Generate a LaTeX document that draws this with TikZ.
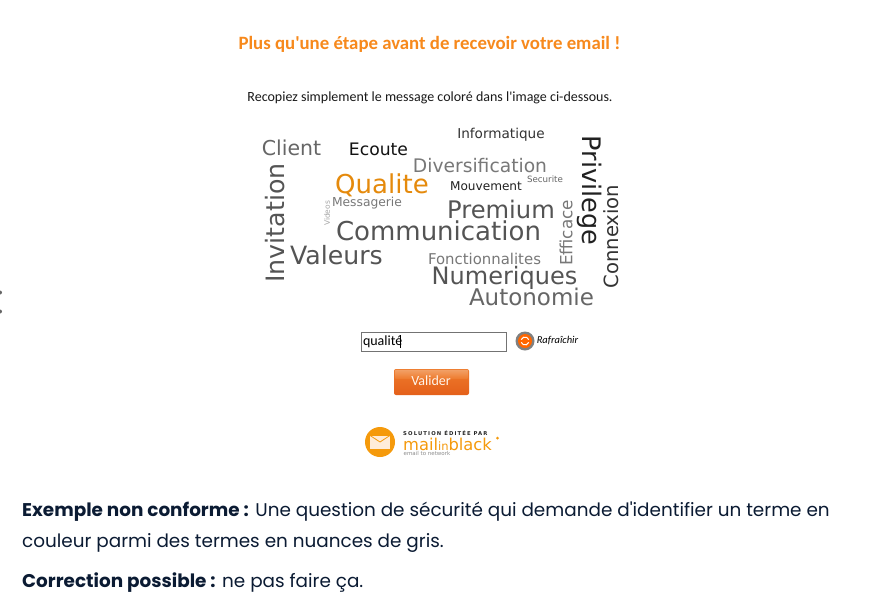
\documentclass[tikz,border=0pt]{standalone}
\usepackage{fontspec}
\newfontfamily\pagefont{Carlito}
\newfontfamily\cloudfont{DejaVu Sans}
\newfontfamily\logofont[LetterSpace=21]{DejaVu Sans}
\newfontfamily\bodyfont{Poppins}
\usetikzlibrary{positioning}
\definecolor{titleorange}{HTML}{F7891C}
\definecolor{wordorange}{HTML}{E58A0C}
\definecolor{bodyink}{HTML}{0B1B33}
\definecolor{logoorange}{HTML}{F59A0C}
\definecolor{buttonlight}{HTML}{F2A066}
\definecolor{buttonmid}{HTML}{EE7A2C}
\definecolor{buttondark}{HTML}{E4601A}
\newcommand{\cloudsize}[1]{\fontsize{#1}{#1}\selectfont}

\tikzset{
  word/.style={inner sep=0pt, font=\cloudfont},
  bodyline/.style={inner sep=0pt, anchor=base west, text=bodyink, font=\bodyfont\fontsize{18.4}{24}\selectfont},
}

\begin{document}
\begin{tikzpicture}[x=1pt, y=-1pt]
\useasboundingbox[fill=white] (0,0) rectangle (877,611);

\node[name=title, inner sep=0pt, text=titleorange, font=\pagefont\bfseries\fontsize{18.8}{22}\selectfont] at (429.5,44) {Plus qu'une étape avant de recevoir votre email !};
\node[name=subtitle, inner sep=0pt, text=black!90, font=\pagefont\fontsize{14}{18}\selectfont] at (430,98) {Recopiez simplement le message coloré dans l'image ci-dessous.};

% word cloud
\node[name=client, word, text=black!60] at (291.5,148) {\cloudsize{20.5}Client};
\node[name=ecoute, word, text=black!93] at (378.5,149) {\cloudsize{17.2}Ecoute};
\node[name=informatique, word, text=black!80] at (501,134.5) {\cloudsize{13.6}Informatique};
\node[name=diversification, word, text=black!53] at (480,166) {\cloudsize{18.7}Diversification};
\node[name=qualite, word, text=wordorange] at (382,185) {\cloudsize{26}Qualite};
\node[name=mouvement, word, text=black!87] at (486,186.5) {\cloudsize{12.1}Mouvement};
\node[name=securite, word, text=black!60] at (545,179) {\cloudsize{8.7}Securite};
\node[name=messagerie, word, text=black!53] at (367,203) {\cloudsize{12.3}Messagerie};
\node[name=videos, word, text=black!35, rotate=90] at (327,213.5) {\cloudsize{7.5}Videos};
\node[name=premium, word, text=black!67] at (501,209.5) {\cloudsize{24.2}Premium};
\node[name=communication, word, text=black!67] at (438.5,231) {\cloudsize{26}Communication};
\node[name=valeurs, word, text=black!67] at (336.5,255) {\cloudsize{25.2}Valeurs};
\node[name=fonctionnalites, word, text=black!53] at (484.5,259) {\cloudsize{14.9}Fonctionnalites};
\node[name=numeriques, word, text=black!67] at (504.5,278) {\cloudsize{24}Numeriques};
\node[name=autonomie, word, text=black!60] at (531.5,297) {\cloudsize{23}Autonomie};
\node[name=invitation, word, text=black!67, rotate=90] at (275,223) {\cloudsize{25.3}Invitation};
\node[name=privilege, word, text=black!87, rotate=-90] at (590,190.5) {\cloudsize{25.5}Privilege};
\node[name=efficace, word, text=black!53, rotate=90] at (566,233) {\cloudsize{16.8}Efficace};
\node[name=connexion, word, text=black!80, rotate=90] at (611,236.5) {\cloudsize{19.6}Connexion};

% form
\node[name=answer, draw=black!55, line width=.8pt, fill=white, minimum width=145pt, minimum height=19pt, inner sep=2pt, text width=141pt, align=left, font=\pagefont\fontsize{14}{16}\selectfont] at (433.5,341.5) {qualité};
\draw[name=caret, black, line width=.7pt] (400.5,335) -- (400.5,348);
\node[name=refresh, circle, fill=black!50, minimum size=19pt, inner sep=0pt] at (525,341) {};
\node[name=refreshin, circle, fill=orange!80!red, minimum size=14pt, inner sep=0pt] at (525,341) {};
\draw[white, line width=1pt] (525,341) +(20:4pt) arc (20:160:4pt);
\draw[white, line width=1pt] (525,341) +(200:4pt) arc (200:340:4pt);
\node[name=refreshlabel, inner sep=0pt, font=\pagefont\itshape\fontsize{10.5}{14}\selectfont] at (557.5,340) {Rafraîchir};

\shade[name=validerback, rounded corners=2pt, top color=buttonmid, bottom color=buttondark] (394,369) rectangle (469,395);
\shade[top color=buttonlight, bottom color=buttonmid, rounded corners=1pt] (394.8,369.8) rectangle (468.2,379);
\node[name=valider, inner sep=0pt, text=white!92!orange, font=\pagefont\fontsize{14}{16}\selectfont] at (431,381) {Valider};

% logo
\node[name=logo, circle, fill=logoorange, minimum size=30pt, inner sep=0pt] at (380,442) {};
\node[name=envelope, rectangle, fill=white!85!orange, minimum width=20pt, minimum height=13pt, inner sep=0pt] at (380,442) {};
\draw[logoorange, line width=.8pt] (envelope.north west) -- (envelope.center) -- (envelope.north east);
\node[name=solution, inner sep=0pt, anchor=west, text=black!85, font=\logofont\bfseries\fontsize{5.3}{6}\selectfont] at (403,433) {SOLUTION ÉDITÉE PAR};
\node[name=brand, inner sep=0pt, anchor=west, text=logoorange, font=\cloudfont\fontsize{16.3}{17}\selectfont] at (403,444) {mail{\fontsize{11.5}{12}\selectfont in}black};
\node[name=tagline, inner sep=0pt, anchor=west, text=black!45, font=\cloudfont\fontsize{5.5}{6}\selectfont] at (403.5,453.5) {email to network};
\node[name=branddot, circle, fill=logoorange, minimum size=3pt, inner sep=0pt] at (497.5,438) {};

% caption
\node[name=line1, bodyline] at (22,516.5) {\textbf{Exemple non conforme :} Une question de sécurité qui demande d'identifier un terme en};
\node[name=line2, bodyline] at (22,547) {couleur parmi des termes en nuances de gris.};
\node[name=line3, bodyline] at (22,587) {\textbf{Correction possible :} ne pas faire ça.};

% cropped marks on the left edge
\fill[black!60] (0,292.5) circle (2pt);
\fill[black!60] (0,311.5) circle (2pt);
\end{tikzpicture}
\end{document}
